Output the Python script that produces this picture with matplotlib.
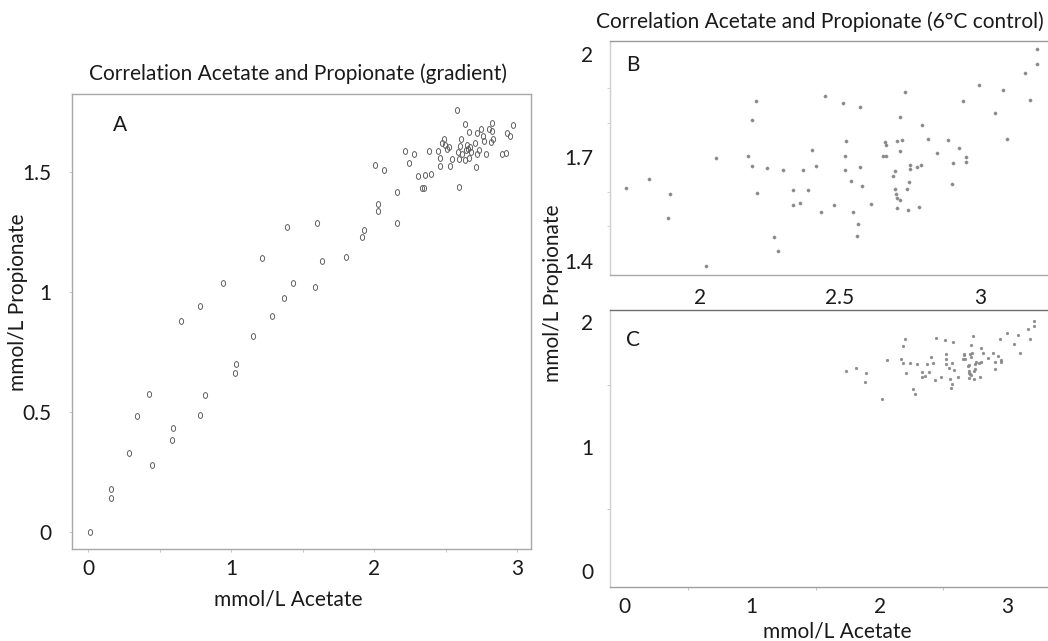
import matplotlib
matplotlib.use("Agg")
import matplotlib.pyplot as plt
from matplotlib.path import Path
from matplotlib.ticker import MultipleLocator
import numpy as np

plt.rcParams['font.family'] = ['Lato', 'DejaVu Sans']

# ---- Data: gradient (panel A) ----
acetate_grad = [0.01, 0.16, 0.156, 0.286, 0.339, 0.423, 0.446, 0.583, 0.592, 0.645,
                0.78, 0.782, 0.817, 0.943, 1.024, 1.031, 1.154, 1.212, 1.282, 1.372,
                1.393, 1.43, 1.583, 1.602, 1.637, 1.802, 1.913, 1.927, 2.008, 2.027,
                2.027, 2.071, 2.157, 2.157, 2.215, 2.243, 2.28, 2.303, 2.333, 2.35,
                2.354, 2.384, 2.40, 2.445, 2.459, 2.463, 2.473, 2.489, 2.496, 2.508,
                2.522, 2.529, 2.542, 2.575, 2.584, 2.589, 2.591, 2.596, 2.607, 2.614,
                2.631, 2.635, 2.642, 2.651, 2.658, 2.663, 2.665, 2.67, 2.677, 2.702,
                2.712, 2.717, 2.721, 2.735, 2.744, 2.758, 2.77, 2.779, 2.80, 2.814,
                2.823, 2.823, 2.830, 2.89, 2.919, 2.926, 2.947, 2.972]
propionate_grad = [0.0, 0.18, 0.14, 0.326, 0.482, 0.572, 0.277, 0.381, 0.431, 0.879,
                   0.942, 0.486, 0.571, 1.038, 0.663, 0.700, 0.814, 1.139, 0.900, 0.975,
                   1.268, 1.038, 1.021, 1.287, 1.130, 1.144, 1.229, 1.256, 1.529, 1.336,
                   1.364, 1.508, 1.416, 1.288, 1.587, 1.535, 1.573, 1.484, 1.431, 1.434,
                   1.488, 1.587, 1.491, 1.586, 1.556, 1.526, 1.618, 1.635, 1.611, 1.596,
                   1.604, 1.526, 1.553, 1.757, 1.582, 1.553, 1.435, 1.607, 1.636, 1.575,
                   1.700, 1.550, 1.590, 1.611, 1.596, 1.559, 1.665, 1.604, 1.582, 1.618,
                   1.519, 1.575, 1.660, 1.592, 1.680, 1.649, 1.628, 1.575, 1.680, 1.625,
                   1.704, 1.668, 1.635, 1.575, 1.578, 1.661, 1.647, 1.693]

# ---- Data: 6 degC control (panels B and C) ----
acetate_ctrl = [1.737, 1.817, 1.886, 1.893, 2.020, 2.057, 2.170, 2.185, 2.187, 2.202,
                2.204, 2.238, 2.264, 2.279, 2.295, 2.333, 2.333, 2.358, 2.368, 2.386,
                2.40, 2.415, 2.432, 2.445, 2.479, 2.512, 2.519, 2.519, 2.523, 2.540,
                2.548, 2.561, 2.565, 2.570, 2.573, 2.579, 2.61, 2.652, 2.661, 2.664,
                2.665, 2.689, 2.698, 2.698, 2.70, 2.702, 2.704, 2.705, 2.713, 2.713,
                2.715, 2.721, 2.732, 2.739, 2.742, 2.746, 2.75, 2.751, 2.776, 2.782,
                2.79, 2.794, 2.813, 2.848, 2.887, 2.90, 2.902, 2.926, 2.94, 2.95,
                2.95, 2.996, 3.055, 3.082, 3.095, 3.16, 3.177, 3.205, 3.205]
propionate_ctrl = [1.612, 1.636, 1.524, 1.594, 1.383, 1.699, 1.704, 1.808, 1.675, 1.863,
                   1.596, 1.670, 1.468, 1.427, 1.663, 1.604, 1.560, 1.568, 1.664, 1.604,
                   1.721, 1.675, 1.540, 1.878, 1.560, 1.858, 1.704, 1.663, 1.747, 1.632,
                   1.541, 1.472, 1.507, 1.673, 1.846, 1.617, 1.564, 1.705, 1.744, 1.737,
                   1.705, 1.646, 1.659, 1.608, 1.594, 1.552, 1.748, 1.582, 1.575, 1.718,
                   1.816, 1.751, 1.891, 1.609, 1.546, 1.629, 1.666, 1.678, 1.672, 1.557,
                   1.679, 1.794, 1.753, 1.713, 1.750, 1.623, 1.683, 1.727, 1.863, 1.70,
                   1.685, 1.911, 1.828, 1.896, 1.754, 1.946, 1.867, 1.972, 2.015]

title_grad = "Correlation Acetate and Propionate (gradient)"
title_ctrl = "Correlation Acetate and Propionate (6°C control)"
xlabel = "mmol/L Acetate"
ylabel = "mmol/L Propionate"

W, H = 1048, 641
fig = plt.figure(figsize=(W / 100, H / 100), dpi=100)


def px_axes(left, top, right, bottom):
    return fig.add_axes([left / W, 1 - bottom / H, (right - left) / W, (bottom - top) / H])


def ftext(x, y, s, **kw):
    fig.text(x / W, 1 - y / H, s, **kw)


TICK_FS = 15
LAB_FS = 15
TXT = '#1a1a1a'

# ellipse marker for panel A
circ = Path.unit_circle()
ell = Path(circ.vertices * np.array([0.72, 1.0]), circ.codes)

# ---- Panel A ----
axA = px_axes(72, 94, 531, 549)
axA.plot(acetate_grad, propionate_grad, linestyle='none', marker=ell, markersize=4.2,
         markerfacecolor='none', markeredgecolor='#606060', markeredgewidth=0.7)
axA.set_xlim(-0.114, 3.096)
axA.set_ylim(-0.072, 1.824)
axA.set_xticks([0, 1, 2, 3])
axA.set_xticklabels(['0', '1', '2', '3'])
axA.set_yticks([0, 0.5, 1, 1.5])
axA.set_yticklabels(['0', '0.5', '1', '1.5'])
axA.xaxis.set_minor_locator(MultipleLocator(0.5))
axA.tick_params(axis='both', which='major', labelsize=TICK_FS, labelcolor=TXT,
                length=2, width=0.6, color='#bbbbbb')
axA.tick_params(axis='x', which='major', pad=5)
axA.tick_params(axis='y', which='major', pad=13)
axA.tick_params(axis='x', which='minor', length=2, width=0.6, color='#bbbbbb')
for sp in axA.spines.values():
    sp.set_color('#a8a8a8')
    sp.set_linewidth(1.0)
ftext(120, 125, 'A', fontsize=15, color=TXT, ha='center', va='center')

# ---- Panel B ----
axB = px_axes(610, 41, 1052, 275)
axB.plot(acetate_ctrl, propionate_ctrl, linestyle='none', marker='o', markersize=2.3,
         markerfacecolor='#8a8a8a', markeredgecolor='#8a8a8a', markeredgewidth=0.3)
axB.set_xlim(1.679, 3.257)
axB.set_ylim(1.358, 2.038)
axB.set_xticks([2, 2.5, 3])
axB.set_xticklabels(['2', '2.5', '3'])
axB.set_yticks([1.4, 1.7, 2.0])
axB.set_yticklabels(['1.4', '1.7', '2'])
axB.yaxis.set_minor_locator(MultipleLocator(0.1))
axB.tick_params(axis='both', which='major', labelsize=TICK_FS, labelcolor=TXT,
                length=0)
axB.tick_params(axis='x', which='major', pad=9)
axB.tick_params(axis='y', which='major', pad=12)
axB.tick_params(axis='y', which='minor', length=2, width=0.6, color='#cccccc')
axB.spines['right'].set_visible(False)
axB.spines['left'].set_color('#cfcfcf')
axB.spines['top'].set_color('#9a9a9a')
axB.spines['bottom'].set_color('#a8a8a8')
for sp in axB.spines.values():
    sp.set_linewidth(1.0)
ftext(633, 65, 'B', fontsize=15, color=TXT, ha='center', va='center')

# ---- Panel C ----
axC = px_axes(610, 310, 1052, 587)
axC.plot(acetate_ctrl, propionate_ctrl, linestyle='none', marker='o', markersize=2.0,
         markerfacecolor='#8a8a8a', markeredgecolor='#8a8a8a', markeredgewidth=0.3)
axC.set_xlim(-0.1095, 3.349)
axC.set_ylim(-0.129, 2.10)
axC.set_xticks([0, 1, 2, 3])
axC.set_xticklabels(['0', '1', '2', '3'])
axC.set_yticks([0, 1, 2])
axC.set_yticklabels(['0', '1', '2'])
axC.xaxis.set_minor_locator(MultipleLocator(0.5))
axC.yaxis.set_minor_locator(MultipleLocator(0.5))
axC.tick_params(axis='both', which='major', labelsize=TICK_FS, labelcolor=TXT,
                length=0)
axC.tick_params(axis='x', which='major', pad=7)
axC.tick_params(axis='y', which='major', pad=12)
axC.tick_params(axis='both', which='minor', length=2, width=0.6, color='#bbbbbb')
axC.spines['right'].set_visible(False)
axC.spines['left'].set_color('#cfcfcf')
axC.spines['top'].set_color('#707070')
axC.spines['bottom'].set_color('#a0a0a0')
for sp in axC.spines.values():
    sp.set_linewidth(1.0)
ftext(633, 340, 'C', fontsize=15, color=TXT, ha='center', va='center')

# ---- Titles and axis labels ----
ftext(298, 74, title_grad, fontsize=LAB_FS, color=TXT, ha='center', va='center')
ftext(820, 22, title_ctrl, fontsize=LAB_FS, color=TXT, ha='center', va='center')
ftext(288, 600, xlabel, fontsize=LAB_FS, color=TXT, ha='center', va='center')
ftext(837, 631, xlabel, fontsize=LAB_FS, color=TXT, ha='center', va='center')
ftext(18, 302, ylabel, fontsize=LAB_FS, color=TXT, ha='center', va='center', rotation=90)
ftext(553, 293, ylabel, fontsize=LAB_FS, color=TXT, ha='center', va='center', rotation=90)

fig.savefig('out.png', dpi=100)
